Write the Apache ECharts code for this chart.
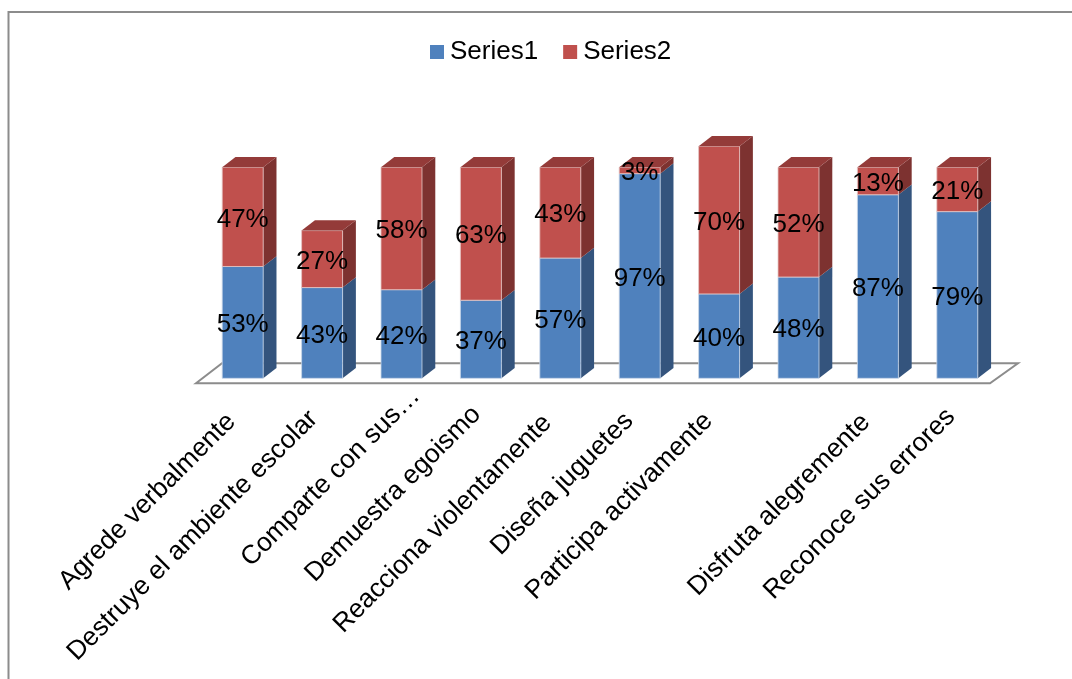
<!DOCTYPE html>
<html>
<head>
<meta charset="utf-8">
<style>html,body{margin:0;padding:0;background:#fff;overflow:hidden}#c{width:1072px;height:679px}</style>
<script src="https://cdn.jsdelivr.net/npm/echarts@6/dist/echarts.min.js"></script>
</head>
<body>
<div id="c"></div>
<script>
const categories = ['Agrede verbalmente','Destruye el ambiente escolar','Comparte con sus…','Demuestra egoismo','Reacciona violentamente','Diseña juguetes','Participa activamente','','Disfruta alegremente','Reconoce sus errores'];
const series1 = [53,43,42,37,57,97,40,48,87,79];
const series2 = [47,27,58,63,43,3,70,52,13,21];
const FONT = '"Liberation Sans", Arial, sans-serif';
const DX = 13.3, DY = 10.3, BAR_RATIO = 0.516;
// per-label slide along the 45° text direction, in px
const labelSlide = [16,12,-20,6,18,15,15,0,17,9];

const labelRich = {};
labelSlide.forEach((p,i)=>{ labelRich['p'+i] = {fontSize:26.4, fontFamily:FONT, color:'#000', padding:[0,p,0,0]}; });

function barRenderer(front, side, top, edge) {
  return function (params, api) {
    const i = api.value(0), base = api.value(1), val = api.value(2);
    const p0 = api.coord([i, base]), p1 = api.coord([i, base + val]);
    const w = api.size([1, 0])[0] * BAR_RATIO;
    const l = p0[0] - w / 2, r = p0[0] + w / 2, yb = p0[1], yt = p1[1];
    const isTop = api.value(3) === 1;
    const children = [
      {type:'polygon', shape:{points:[[r,yb],[r+DX,yb-DY],[r+DX,yt-DY],[r,yt]]}, style:{fill:side}},
      {type:'rect', shape:{x:l,y:yt,width:w,height:yb-yt}, style:{fill:front, stroke:edge, lineWidth:0.8}}
    ];
    if (isTop) children.push({type:'polygon', shape:{points:[[l,yt],[l+DX,yt-DY],[r+DX,yt-DY],[r,yt]]}, style:{fill:top}});
    children.push({type:'text', z2:10, style:{text:val+'%', x:p0[0], y:(yb+yt)/2+2.5, align:'center', verticalAlign:'middle', fontSize:26, fontFamily:FONT, fill:'#000'}});
    return {type:'group', children};
  };
}
const d1 = series1.map((v,i)=>[i,0,v,0]);
const d2 = series2.map((v,i)=>[i,series1[i],v,1]);

const chart = echarts.init(document.getElementById('c'), null, {renderer:'canvas'});
chart.setOption({
  animation:false,
  backgroundColor:'#fff',
  textStyle:{fontFamily:FONT},
  graphic:[{type:'rect', silent:true, z:-10, shape:{x:8.5,y:12,width:1300,height:900}, style:{fill:'none',stroke:'#8c8c8c',lineWidth:2}}],
  legend:{data:['Series1','Series2'], left:425, top:34, itemWidth:14, itemHeight:14, itemGap:25, selectedMode:false,
    icon:'rect', textStyle:{fontSize:26, fontFamily:FONT, color:'#000', padding:[0,0,0,1]}},
  grid:{left:203, top:125.1, width:794, height:253.2},
  xAxis:{type:'category', data:categories, axisLine:{show:false}, axisTick:{show:false},
    axisLabel:{interval:0, rotate:45, fontSize:26.4, fontFamily:FONT, color:'#000', margin:28, hideOverlap:false,
      rich:labelRich,
      formatter:(v,i)=> v ? '{p'+i+'|'+v+'}' : ''}},
  yAxis:{type:'value', min:0, max:120, show:false, splitLine:{show:false}},
  series:[
    {type:'custom', name:'floor', z:1, silent:true, clip:false, data:[[0,0]], encode:{x:0,y:1},
      renderItem(params, api){
        const c = params.coordSys, b = c.y + c.height, x = c.x, w = c.width;
        return {type:'polygon', shape:{points:[[x-7,b+5],[x+19,b-15],[x+w+21,b-15],[x+w-7,b+5]]}, style:{fill:'#fff',stroke:'#8c8c8c',lineWidth:2}};
      }},
    {type:'custom', name:'Series1', z:2, silent:true, clip:false, itemStyle:{color:'#4F81BD'}, data:d1, encode:{x:0,y:[1,2]},
      renderItem:barRenderer('#4F81BD','#34547D','#3F6797','#C9D7E8')},
    {type:'custom', name:'Series2', z:3, silent:true, clip:false, itemStyle:{color:'#C0504D'}, data:d2, encode:{x:0,y:[1,2]},
      renderItem:barRenderer('#C0504D','#7D3230','#943B39','#E6C6C5')}
  ]
});
</script>
</body>
</html>
